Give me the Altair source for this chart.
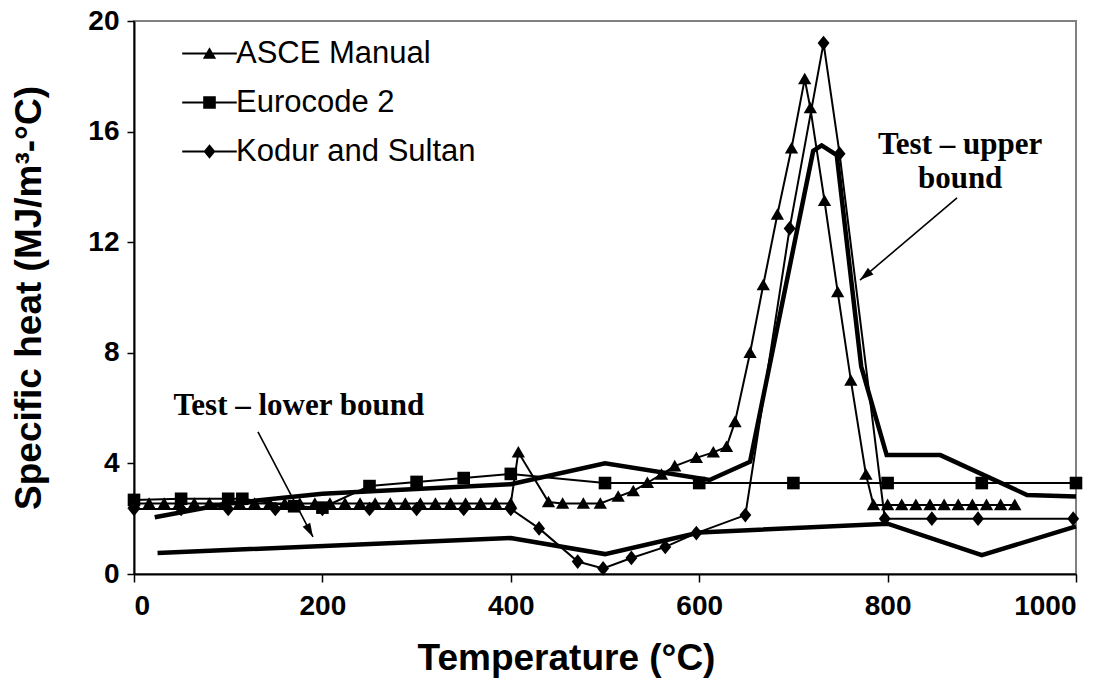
import altair as alt
import pandas as pd

# ---- model curves: temperature (°C) and volumetric specific heat (MJ/m³-°C) ----
asce_t = [0, 16, 32, 48, 64, 80, 96, 112, 128, 144, 160, 176, 192, 208, 224, 240,
          256, 272, 288, 304, 320, 336, 352, 368, 384, 400, 408, 440, 455, 477, 495,
          514, 530, 545, 560, 574, 597, 615, 629, 638, 654, 668, 683, 698, 712, 718,
          733, 747, 761, 777, 785, 800, 815, 830, 845, 860, 875, 890, 905, 920, 935]
asce_c = [2.55] * 26 + [4.4, 2.6, 2.55, 2.55, 2.55,
          2.8, 3.0, 3.3, 3.6, 3.9, 4.2, 4.4, 4.6, 5.5, 8.0, 10.45, 13.0, 15.4, 17.9, 16.85,
          13.5, 10.2, 7.0, 3.6] + [2.5] * 11

ec2_t = [0, 50, 100, 115, 170, 200, 250, 300, 350, 400, 500, 600, 700, 800, 900, 1000]
ec2_c = [2.68, 2.72, 2.72, 2.72, 2.45, 2.4, 3.18, 3.33, 3.47, 3.62, 3.29, 3.29, 3.29,
         3.29, 3.29, 3.29]

ks_t = [0, 50, 100, 150, 200, 250, 300, 350, 400, 430, 471, 498, 528, 564, 597, 649,
        696, 732, 749, 797, 847, 896, 997]
ks_c = [2.35, 2.35, 2.35, 2.35, 2.35, 2.35, 2.35, 2.35, 2.35, 1.65, 0.45, 0.2, 0.58,
        0.98, 1.48, 2.13, 12.5, 19.2, 15.2, 2.0, 2.0, 2.0, 2.0]

# ---- measured envelope ----
low_t = [25, 400, 500, 600, 800, 900, 1000]
low_c = [0.76, 1.3, 0.72, 1.5, 1.82, 0.68, 1.72]

up_t = [22, 100, 200, 400, 500, 611, 654, 721, 730, 746, 772, 799, 856, 948, 1000]
up_c = [2.05, 2.55, 2.9, 3.25, 4.0, 3.4, 4.06, 15.3, 15.5, 15.15, 7.5, 4.3, 4.3, 2.86, 2.8]

series_names = ["ASCE Manual", "Eurocode 2", "Kodur and Sultan"]

# ---- annotation labels and arrows ----
note_text = ["Test – lower bound", "Test – upper", "bound"]
note_t = [175, 877, 877]
note_c = [5.75, 15.2, 13.95]
arrow_t = [131.6, 873.7]
arrow_c = [5.14, 13.6]
arrow_t2 = [190, 770.7]
arrow_c2 = [1.34, 10.63]
arrow_angle = [152, 230]


def frame(name, t, c):
    return pd.DataFrame({"series": name, "temp": t, "heat": c})


models = pd.concat([frame(series_names[0], asce_t, asce_c),
                    frame(series_names[1], ec2_t, ec2_c),
                    frame(series_names[2], ks_t, ks_c)], ignore_index=True)
tests = pd.concat([frame("lower", low_t, low_c),
                   frame("upper", up_t, up_c)], ignore_index=True)
notes = pd.DataFrame({"label": note_text, "temp": note_t, "heat": note_c})
arrows = pd.DataFrame({"temp": arrow_t, "heat": arrow_c, "temp2": arrow_t2,
                       "heat2": arrow_c2, "angle": arrow_angle})

FONT = "Liberation Sans"

x_enc = alt.X("temp:Q",
              scale=alt.Scale(domain=[0, 1000], nice=False, zero=False),
              axis=alt.Axis(values=[0, 200, 400, 600, 800, 1000], format="d",
                            title="Temperature (°C)", titlePadding=20,
                            titleX=432, titleAnchor="middle",
                            labelPadding=10, tickSize=8))
y_enc = alt.Y("heat:Q",
              scale=alt.Scale(domain=[0, 20], nice=False),
              axis=alt.Axis(values=[0, 4, 8, 12, 16, 20], format="d",
                            title="Specific heat (MJ/m³-°C)", titlePadding=39,
                            labelPadding=8, tickSize=7))

# marker outlines in unit coordinates (all drawn clockwise so they fill as one)
tri = "M0,-0.9L0.95,0.75L-0.95,0.75Z"
sq = "M-0.9,-0.9H0.9V0.9H-0.9Z"
dia = "M0,-1.05L0.85,0L0,1.05L-0.85,0Z"
# legend keys: the same markers on a thin bar standing for the line
leg_bar = "M-3.9,-0.15H3.9V0.15H-3.9Z"
tri_key = leg_bar + tri
sq_key = leg_bar + sq
dia_key = leg_bar + dia

test_lines = alt.Chart(tests).mark_line(color="black", strokeWidth=4.5).encode(
    x=x_enc, y=y_enc, detail="series:N")

model_lines = alt.Chart(models).mark_line(color="black", strokeWidth=2).encode(
    x=x_enc, y=y_enc, detail="series:N")

model_points = alt.Chart(models).mark_point(
    filled=True, color="black", opacity=1, size=196).encode(
    x=x_enc, y=y_enc,
    shape=alt.Shape("series:N",
                    scale=alt.Scale(domain=series_names, range=[tri, sq, dia]),
                    legend=None))

legend_keys = alt.Chart(models).mark_point(
    filled=True, color="black", opacity=0, size=196).encode(
    x=x_enc, y=y_enc,
    shape=alt.Shape("series:N",
                    scale=alt.Scale(domain=series_names,
                                    range=[tri_key, sq_key, dia_key]),
                    legend=alt.Legend(title=None, orient="none",
                                      legendX=60, legendY=17,
                                      symbolSize=196, symbolOpacity=1,
                                      symbolFillColor="black",
                                      labelFont=FONT, labelFontSize=31,
                                      labelColor="black", labelOffset=11,
                                      rowPadding=17, padding=0,
                                      labelLimit=400)))

note_marks = alt.Chart(notes).mark_text(
    font="Liberation Serif", fontWeight="bold", fontSize=31, color="black",
    align="center", baseline="alphabetic").encode(
    x=x_enc, y=y_enc, text="label:N")

arrow_shafts = alt.Chart(arrows).mark_rule(color="black", strokeWidth=1.6).encode(
    x=x_enc, y=y_enc, x2="temp2:Q", y2="heat2:Q")

arrow_heads = alt.Chart(arrows).mark_point(
    shape="M0,0L0.55,1.8L-0.55,1.8Z", filled=True, color="black",
    opacity=1, size=240).encode(
    x=alt.X("temp2:Q", scale=alt.Scale(domain=[0, 1000], nice=False)),
    y=alt.Y("heat2:Q", scale=alt.Scale(domain=[0, 20], nice=False)),
    angle=alt.Angle("angle:Q", scale=None))

chart = alt.layer(
    test_lines, model_lines, model_points, legend_keys,
    arrow_shafts, arrow_heads, note_marks
).resolve_scale(shape="independent").properties(
    width=942, height=553,
    padding={"left": 134, "top": 21, "right": 39, "bottom": 116},
    autosize=alt.AutoSizeParams(type="none"),
    background="white",
).configure_view(
    stroke="#808080", strokeWidth=2
).configure_axis(
    labelFont=FONT, labelFontSize=28, labelFontWeight="bold", labelColor="black",
    titleFont=FONT, titleFontSize=37, titleFontWeight="bold", titleColor="black",
    domainColor="black", domainWidth=2, tickColor="black", tickWidth=1.5,
    grid=False,
)

chart.save("out.html", embed_options={"renderer": "svg", "actions": False})
